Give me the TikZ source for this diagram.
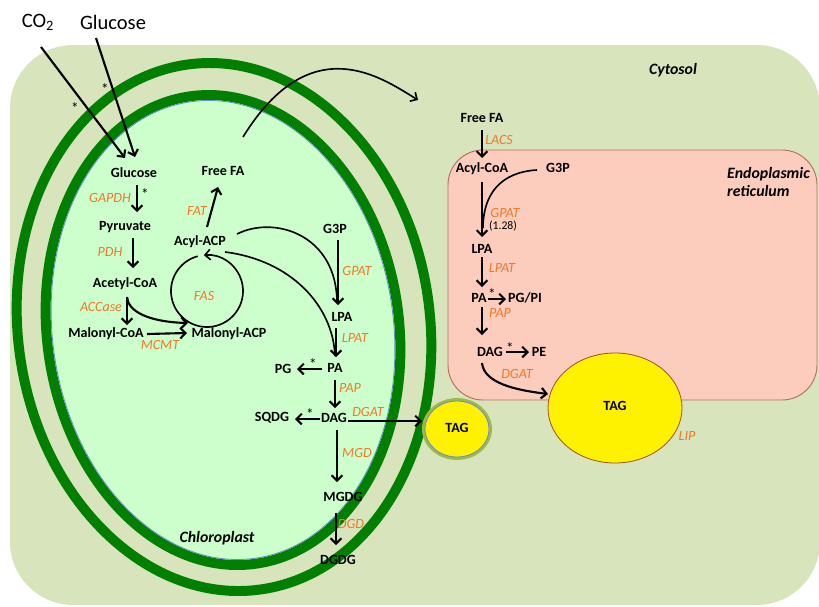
\documentclass[tikz,border=0pt]{standalone}
\usepackage{fontspec}
\setmainfont{Carlito}
\usetikzlibrary{arrows.meta,calc}
\definecolor{cyto}{HTML}{D8E4BC}
\definecolor{erfill}{HTML}{FCCDBC}
\definecolor{erline}{HTML}{B5705C}
\definecolor{chlfill}{HTML}{CCFFCC}
\definecolor{ringc}{HTML}{007F00}
\definecolor{enzc}{HTML}{F0782A}
\definecolor{tagline}{HTML}{A0B850}
\definecolor{blueline}{HTML}{6A8CC8}
\definecolor{tagborder}{HTML}{A0522D}
\begin{document}
\begin{tikzpicture}[x=0.03cm,y=-0.03cm,
  met/.style={font=\bfseries\fontsize{12}{14}\selectfont, inner sep=1pt},
  enz/.style={font=\itshape\fontsize{12}{14}\selectfont, text=enzc, inner sep=0pt},
  bigl/.style={font=\fontsize{17.5}{20}\selectfont, inner sep=1pt},
  comp/.style={font=\bfseries\itshape\fontsize{13.5}{16.2}\selectfont, inner sep=0pt},
  star/.style={font=\fontsize{13}{15}\selectfont, inner sep=0pt},
  ar/.style={-{Straight Barb[length=4.5pt,width=9pt]}, line width=1.8pt},
  cvline/.style={line width=1.4pt},
  cvarrow/.style={cvline, -{Straight Barb[length=4.5pt,width=9pt]}},
  membrane/.style={draw=ringc, line width=8.5pt},
]
\fill[white] (0,0) rectangle (819,606);
\useasboundingbox (0,0) rectangle (819,606);
% cytosol
\fill[cyto, rounded corners=1.9cm] (10,45) rectangle (820,605);
% ER
\filldraw[fill=erfill, draw=erline, line width=0.8pt, rounded corners=1.05cm] (448,150) rectangle (817,400);
% big TAG
\filldraw[fill=yellow, draw=tagborder, line width=0.7pt] (615,408) ellipse [x radius=67, y radius=55];
% chloroplast
\fill[chlfill, rotate around={8:(223,330)}] (223,330) ellipse [x radius=176, y radius=236];
\draw[membrane, rotate around={8:(224,327)}] (224,327) ellipse [x radius=206, y radius=265];
\draw[membrane, rotate around={8:(223,330)}] (223,330) ellipse [x radius=176, y radius=236];
\draw[blueline, line width=0.7pt, rotate around={8:(223,330)}] (223,330) ellipse [x radius=170.5, y radius=230.5];
% small TAG
\filldraw[fill=yellow, draw=tagline, line width=2.5pt] (457,429) ellipse [x radius=33.5, y radius=29.5];
\draw[blueline, line width=0.7pt] (457,429) ellipse [x radius=32, y radius=28];

% top labels
\node[bigl] (co2l) at (38,22) {CO\textsubscript{2}};
\node[bigl] (glcl) at (113,22) {Glucose};

% chloroplast metabolites
\node[met] (glc) at (134,173) {Glucose};
\node[met] (pyr) at (125,227) {Pyruvate};
\node[met] (acoa) at (125,284) {Acetyl-CoA};
\node[met] (mcoa) at (106,334) {Malonyl-CoA};
\node[met] (macp) at (229,334) {Malonyl-ACP};
\node[met] (aacp) at (200,242) {Acyl-ACP};
\node[met] (ffa1) at (223,171) {Free FA};
\node[met] (g3p1) at (335,229) {G3P};
\node[met] (lpa1) at (342,317) {LPA};
\node[met] (pa1) at (335,368) {PA};
\node[met] (pg1) at (283,369) {PG};
\node[met] (dag1) at (334,418) {DAG};
\node[met] (sqdg) at (272,418) {SQDG};
\node[met] (mgdg) at (343,497) {MGDG};
\node[met] (dgdg) at (338,560) {DGDG};
\node[met] (tag1) at (457,428) {TAG};

% ER metabolites
\node[met] (ffa2) at (482,118) {Free FA};
\node[met] (acoa2) at (482,169) {Acyl-CoA};
\node[met] (g3p2) at (558,168) {G3P};
\node[met] (lpa2) at (482,249) {LPA};
\node[met] (pa2) at (479,298) {PA};
\node[met] (pgpi) at (525,298) {PG/PI};
\node[met] (dag2) at (490,352) {DAG};
\node[met] (pe) at (539,352) {PE};
\node[met] (tag2) at (615,406) {TAG};

% enzymes
\node[enz] (eGAPDH) at (110,198) {GAPDH};
\node[enz] (ePDH) at (110,252) {PDH};
\node[enz] (eACC) at (101,307) {ACCase};
\node[enz] (eMCMT) at (160,345) {MCMT};
\node[enz] (eFAS) at (204,296) {FAS};
\node[enz] (eFAT) at (197,211) {FAT};
\node[enz] (eGPAT1) at (357,271) {GPAT};
\node[enz] (eLPAT1) at (355,338) {LPAT};
\node[enz] (ePAP1) at (350,388) {PAP};
\node[enz] (eDGAT1) at (368,412) {DGAT};
\node[enz] (eMGD) at (357,453) {MGD};
\node[enz] (eDGD) at (351,524) {DGD};
\node[enz] (eLACS) at (499,140) {LACS};
\node[enz] (eGPAT2) at (505,213) {GPAT};
\node[font=\fontsize{10}{12}\selectfont, inner sep=0pt] (gpatv) at (503,226) {(1.28)};
\node[enz] (eLPAT2) at (502,268) {LPAT};
\node[enz] (ePAP2) at (500,313) {PAP};
\node[enz] (eDGAT2) at (517,374) {DGAT};
\node[enz] (eLIP) at (687,436) {LIP};

% asterisks
\node[star] (s1) at (75,108) {*};
\node[star] (s2) at (105,89) {*};
\node[star] (s3) at (145,194) {*};
\node[star] (s4) at (313,364) {*};
\node[star] (s5) at (310,414) {*};
\node[star] (s6) at (492,294) {*};
\node[star] (s7) at (510,348) {*};

% compartments
\node[comp] (cyt) at (673,70) {Cytosol};
\node[comp, anchor=west, align=left] (erl) at (727,182) {Endoplasmic\\reticulum};
\node[comp] (chl) at (217,538) {Chloroplast};

% arrows chloroplast
\draw[ar] ($(co2l)+(3,25)$) -- ($(glc)+(-9,-15)$);
\draw[ar] ($(glcl)+(-17,16)$) -- ($(glc)+(1,-16)$);
\draw[ar] ($(glc)+(3,12)$) -- ($(pyr)+(12,-15)$);
\draw[ar] ($(pyr)+(8,11)$) -- ($(acoa)+(8,-16)$);
\draw[ar] ($(acoa)+(2,13)$) -- ($(mcoa)+(21,-9)$);
\draw[ar] ($(acoa)+(2,13)$) .. controls (128,312) and (150,322) .. ($(macp)+(-41,-11)$);
\draw[ar] ($(mcoa)+(41,0)$) -- ($(macp)+(-42,-1)$);
\coordinate (fasc) at (207,291);
\draw[cvarrow] ($(fasc)+(-105:36)$) arc[start angle=-105, end angle=-455, radius=36];
\draw[ar] ($(aacp)+(7,-15)$) -- ($(ffa1)+(-5,16)$);
\coordinate (cytoFA) at (418,100);
\draw[cvarrow] ($(ffa1)+(20,-34)$) .. controls (311,27) and (382,78) .. (cytoFA);
\draw[cvline] ($(aacp)+(37,-8)$) .. controls (275,215) and (337,235) .. ($(lpa1)+(-5,-14)$);
\draw[ar] ($(g3p1)+(3,11)$) -- ($(lpa1)+(-4,-12)$);
\draw[cvline] ($(aacp)+(25,10)$) .. controls (290,260) and (333,305) .. ($(pa1)+(0,-12)$);
\draw[ar] ($(lpa1)+(-6,11)$) -- ($(pa1)+(1,-11)$);
\draw[ar] ($(pa1)+(-13,1)$) -- ($(pg1)+(14,0)$);
\draw[ar] ($(pa1)+(0,12)$) -- ($(dag1)+(1,-10)$);
\draw[ar] ($(dag1)+(-14,1)$) -- ($(sqdg)+(23,1)$);
\draw[ar] ($(dag1)+(14,3)$) -- ($(tag1)+(-35,-7)$);
\draw[ar] ($(dag1)+(3,12)$) -- ($(mgdg)+(-6,-15)$);
\draw[ar] ($(mgdg)+(-7,16)$) -- ($(dgdg)+(-2,-15)$);

% arrows ER
\draw[ar] ($(ffa2)+(0,12)$) -- ($(acoa2)+(0,-11)$);
\draw[ar] ($(acoa2)+(0,13)$) -- ($(lpa2)+(0,-12)$);
\draw[cvline] ($(g3p2)+(-21,2)$) .. controls (500,172) and (483,195) .. ($(lpa2)+(1,-21)$);
\draw[ar] ($(lpa2)+(0,8)$) -- ($(pa2)+(3,-11)$);
\draw[ar] ($(pa2)+(9,1)$) -- ($(pgpi)+(-19,1)$);
\draw[ar] ($(pa2)+(3,9)$) -- ($(dag2)+(-8,-17)$);
\draw[ar] ($(dag2)+(16,0)$) -- ($(pe)+(-10,0)$);
\draw[ar] ($(dag2)+(-8,11)$) .. controls (484,383) and (515,390) .. ($(tag2)+(-67,-12)$);
\end{tikzpicture}
\end{document}
